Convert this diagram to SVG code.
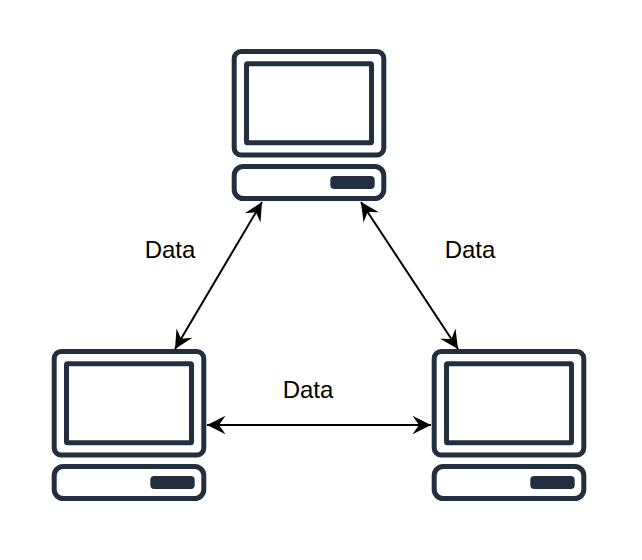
<svg xmlns="http://www.w3.org/2000/svg" width="642" height="560" viewBox="0 0 642 560">
<style>
.o{fill:#fff;stroke:#232f3e;stroke-width:5}
.b{fill:#232f3e}
.c{fill:none;stroke:#000;stroke-width:2}
text{font-family:"Liberation Sans",Arial,sans-serif;font-size:24px;fill:#000;text-anchor:middle}
</style>
<defs>
<marker id="a" markerUnits="userSpaceOnUse" markerWidth="22" markerHeight="22" refX="19" refY="11" orient="auto-start-reverse">
<path d="M19 11L0.5 1.8L7 11L0.5 20.2Z" fill="#000"/>
</marker>
<g id="pc">
<rect class="o" x="234.2" y="51.5" width="149.6" height="103.5" rx="7"/>
<rect class="o" x="246.5" y="63.8" width="125" height="79" rx="1"/>
<rect class="o" x="234.2" y="166.5" width="149.6" height="32" rx="9"/>
<rect class="b" x="330.3" y="176" width="44.4" height="13" rx="4"/>
</g>
</defs>
<g id="connectors">
<line class="c" x1="262" y1="202" x2="175" y2="349" marker-start="url(#a)" marker-end="url(#a)"/>
<line class="c" x1="361" y1="202" x2="458" y2="349" marker-start="url(#a)" marker-end="url(#a)"/>
<line class="c" x1="207" y1="425" x2="431" y2="425" marker-start="url(#a)" marker-end="url(#a)"/>
</g>
<g id="node-top"><use href="#pc"/></g>
<g id="node-left"><use href="#pc" x="-180" y="300"/></g>
<g id="node-right"><use href="#pc" x="200" y="300"/></g>
<g id="labels">
<text x="170" y="258">Data</text>
<text x="470" y="258">Data</text>
<text x="308" y="398">Data</text>
</g>
</svg>
